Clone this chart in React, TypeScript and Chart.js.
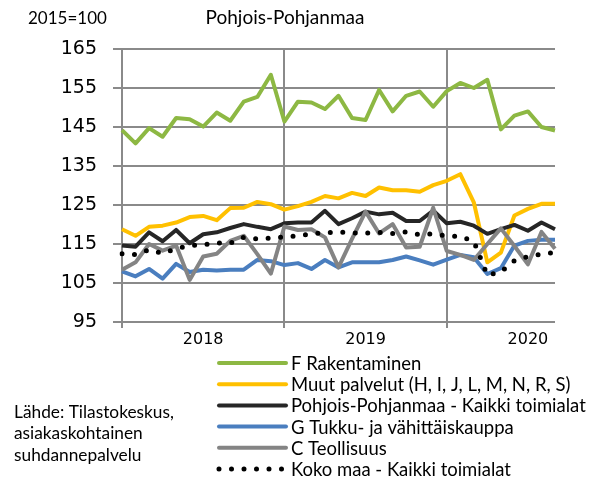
import React, { useEffect, useRef } from "react";
import { Chart, registerables } from "chart.js";

Chart.register(...registerables);

const months: string[] = [
  "2018-01","2018-02","2018-03","2018-04","2018-05","2018-06","2018-07","2018-08","2018-09","2018-10","2018-11","2018-12",
  "2019-01","2019-02","2019-03","2019-04","2019-05","2019-06","2019-07","2019-08","2019-09","2019-10","2019-11","2019-12",
  "2020-01","2020-02","2020-03","2020-04","2020-05","2020-06","2020-07","2020-08","2020-09",
];
const yearTickIndex: number[] = [6, 18, 30];
const yearTickLabels: string[] = ["2018", "2019", "2020"];
const yearBoundaryIndex: number[] = [0, 12, 24];

const rakentaminen: number[] = [144.2, 140.8, 144.7, 142.5, 147.3, 147.0, 145.1, 148.7, 146.6, 151.5, 152.7, 158.4, 146.4, 151.5, 151.3, 149.6, 153.0, 147.3, 146.8, 154.5, 149.0, 153.0, 154.1, 150.2, 154.2, 156.3, 155.0, 157.1, 144.4, 147.9, 149.0, 145.0, 144.1];
const muutPalvelut: number[] = [118.8, 117.1, 119.4, 119.7, 120.5, 121.9, 122.2, 121.1, 124.2, 124.3, 125.8, 125.2, 123.8, 124.7, 125.8, 127.3, 126.7, 128.1, 127.3, 129.5, 128.8, 128.8, 128.4, 130.1, 131.2, 132.9, 125.7, 110.3, 112.8, 122.3, 124.0, 125.3, 125.3];
const ppKaikki: number[] = [114.6, 114.3, 118.0, 115.7, 118.6, 115.2, 117.5, 118.0, 119.1, 120.1, 119.4, 118.8, 120.3, 120.5, 120.5, 123.5, 120.1, 121.6, 123.3, 122.6, 123.0, 120.9, 120.9, 123.6, 120.3, 120.7, 119.7, 117.6, 118.8, 119.9, 118.4, 120.5, 118.8];
const tukku: number[] = [108.0, 106.7, 108.6, 106.1, 109.9, 107.8, 108.4, 108.2, 108.4, 108.4, 110.9, 110.6, 109.6, 110.1, 108.6, 110.9, 109.0, 110.3, 110.3, 110.3, 110.9, 111.8, 110.8, 109.7, 111.0, 112.2, 111.6, 107.3, 108.8, 114.6, 115.8, 116.1, 116.1];
const teollisuus: number[] = [108.4, 110.3, 115.0, 113.3, 114.6, 105.8, 111.8, 112.5, 115.8, 117.1, 112.4, 107.4, 119.5, 118.6, 118.8, 116.7, 109.0, 116.3, 123.3, 117.7, 120.1, 114.1, 114.3, 124.3, 113.2, 112.2, 110.9, 115.0, 119.0, 114.5, 109.8, 118.1, 113.8];
const kokoMaa: number[] = [112.5, 112.3, 113.5, 112.6, 113.8, 114.6, 114.8, 115.3, 115.2, 116.7, 116.3, 116.5, 116.8, 117.1, 117.6, 117.9, 118.1, 117.8, 117.8, 118.0, 117.7, 118.1, 117.4, 117.6, 117.1, 116.9, 115.7, 107.0, 107.8, 110.7, 111.8, 112.4, 112.8];

const seriesNames: string[] = [
  "F Rakentaminen",
  "Muut palvelut (H, I, J, L, M, N, R, S)",
  "Pohjois-Pohjanmaa - Kaikki toimialat",
  "G Tukku- ja vähittäiskauppa",
  "C Teollisuus",
  "Koko maa - Kaikki toimialat",
];
const seriesColors: string[] = ["#8db843", "#ffc000", "#262626", "#4a7ebf", "#848484", "#000000"];
const seriesData: number[][] = [rakentaminen, muutPalvelut, ppKaikki, tukku, teollisuus, kokoMaa];

const titleText = "Pohjois-Pohjanmaa";
const unitText = "2015=100";
const sourceLines: string[] = ["Lähde: Tilastokeskus,", "asiakaskohtainen", "suhdannepalvelu"];

const FONT = "'DejaVu Sans', sans-serif";
const TEXT_FONT = "Lato, 'DejaVu Sans', sans-serif";
const GRID = "#8a8a8a";
const DOT_DASH = [0, 12.5];

function fitSize(ctx: CanvasRenderingContext2D, text: string, family: string, target: number): number {
  ctx.font = `20px ${family}`;
  const w = ctx.measureText(text).width;
  return (20 * target) / w;
}

const decorPlugin = {
  id: "decor",
  afterDraw(chart: any) {
    const ctx = chart.ctx as CanvasRenderingContext2D;
    ctx.save();
    ctx.fillStyle = "#000";
    ctx.textBaseline = "middle";
    // title
    ctx.font = `19px ${TEXT_FONT}`;
    ctx.textAlign = "center";
    ctx.fillText(titleText, 285, 18);
    ctx.textAlign = "left";
    // unit
    const us = fitSize(ctx, unitText, TEXT_FONT, 89);
    ctx.font = `${Math.min(us, 17)}px ${TEXT_FONT}`;
    ctx.fillText(unitText, 28, 19);
    // source
    const ss = fitSize(ctx, sourceLines[0], TEXT_FONT, 160);
    ctx.font = `${ss}px ${TEXT_FONT}`;
    sourceLines.forEach((s, i) => ctx.fillText(s, 14, 412 + i * 21.5));
    // legend
    const ds = chart.data.datasets;
    const ls = fitSize(ctx, ds[2].label, TEXT_FONT, 295);
    ds.forEach((d: any, i: number) => {
      const y = 363 + i * 21.2;
      ctx.save();
      ctx.strokeStyle = d.borderColor;
      ctx.lineWidth = d.borderWidth;
      ctx.lineCap = "round";
      if (d.borderDash && d.borderDash.length) ctx.setLineDash(d.borderDash);
      ctx.beginPath();
      ctx.moveTo(219, y);
      ctx.lineTo(286, y);
      ctx.stroke();
      ctx.restore();
      ctx.font = `${ls}px ${TEXT_FONT}`;
      ctx.fillStyle = "#000";
      ctx.textAlign = "left";
      ctx.fillText(d.label, 291, y + 1);
    });
    ctx.restore();
  },
};

export default function App() {
  const ref = useRef<HTMLCanvasElement | null>(null);
  useEffect(() => {
    if (!ref.current) return;
    const datasets = seriesNames.map((name, i) => {
      const dotted = i === 5;
      return {
        label: name,
        data: seriesData[i],
        borderColor: seriesColors[i],
        backgroundColor: seriesColors[i],
        borderWidth: dotted ? 5 : 4,
        borderDash: dotted ? DOT_DASH : [],
        borderCapStyle: dotted ? "round" : "butt",
        borderJoinStyle: "round",
        pointRadius: 0,
        tension: 0,
        fill: false,
        order: 5 - i,
      };
    });
    const chart = new Chart(ref.current, {
      type: "line",
      data: { labels: months, datasets: datasets as any },
      options: {
        responsive: false,
        animation: false,
        layout: { padding: { left: 0, right: 38, top: 49, bottom: 125 } },
        plugins: { legend: { display: false }, title: { display: false }, tooltip: { enabled: false } },
        scales: {
          x: {
            type: "category",
            offset: false,
            border: { display: false },
            grid: {
              color: (c: any) => (yearBoundaryIndex.includes(c.index) ? GRID : "rgba(0,0,0,0)"),
              lineWidth: 2,
              tickLength: 6,
              drawOnChartArea: true,
            },
            ticks: {
              autoSkip: false,
              maxRotation: 0,
              minRotation: 0,
              padding: 2,
              color: "#000",
              font: { family: FONT, size: 16 },
              callback: (_v: any, idx: number) => {
                const k = yearTickIndex.indexOf(idx);
                return k >= 0 ? yearTickLabels[k] : "";
              },
            },
            afterFit: (s: any) => { s.height = 32; },
          },
          y: {
            min: 95,
            max: 165,
            border: { display: false },
            grid: { color: GRID, lineWidth: 2, tickLength: 9 },
            ticks: {
              stepSize: 10,
              padding: 16,
              color: "#000",
              font: { family: FONT, size: 19 },
            },
            afterFit: (s: any) => { s.width = 122; },
          },
        },
      },
      plugins: [decorPlugin],
    });
    return () => chart.destroy();
  }, []);
  return (
    <div style={{ position: "absolute", left: 0, top: 0, width: 593, height: 479, background: "#fff" }}>
      <canvas ref={ref} width={593} height={479} style={{ display: "block" }} />
    </div>
  );
}
